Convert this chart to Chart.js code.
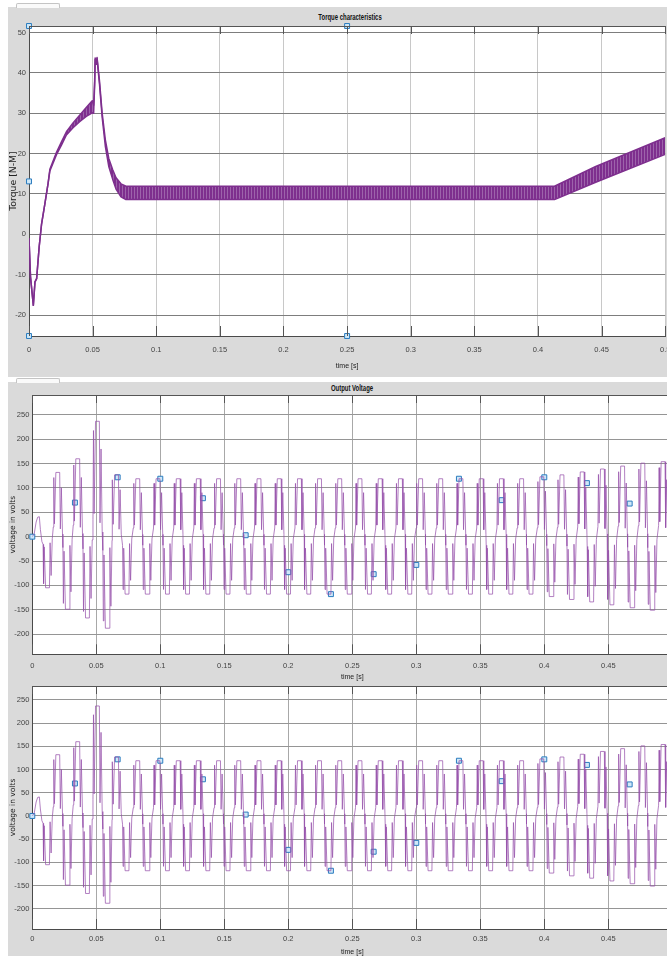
<!DOCTYPE html>
<html><head><meta charset="utf-8">
<script src="https://cdn.jsdelivr.net/npm/chart.js@4"></script>
<style>
html,body{margin:0;padding:0;width:667px;height:956px;overflow:hidden;background:#fff;}
.bg{position:absolute;background:#dadada;}
.tab{position:absolute;background:#fafafa;border:1px solid #c4c4c4;border-bottom:none;border-radius:2px 2px 0 0;}
canvas{position:absolute;left:0;}
.ttl{position:absolute;white-space:nowrap;font:bold 8.5px 'Liberation Sans',Arial,sans-serif;color:#111;
     transform:translate(-50%,-50%) scaleX(0.7);line-height:10px;}
</style></head><body>
<div class="bg" style="left:8px;top:7px;width:659px;height:370px"></div>
<div class="bg" style="left:8px;top:382px;width:659px;height:574px"></div>
<div class="tab" style="left:16px;top:3px;width:42px;height:4px"></div>
<div class="tab" style="left:16px;top:378px;width:42px;height:4px"></div>
<div class="ttl" style="left:349.5px;top:17px">Torque characteristics</div>
<div class="ttl" style="left:352px;top:388px">Output Voltage</div>
<canvas id="c1" width="680" height="375" style="top:0"></canvas>
<canvas id="c2" width="685" height="310" style="top:380px"></canvas>
<canvas id="c3" width="685" height="285" style="top:676px"></canvas>
<script>
// ---------- tick labels ----------
const timeTicks = [0, 0.05, 0.1, 0.15, 0.2, 0.25, 0.3, 0.35, 0.4, 0.45, 0.5];
const timeTickLabels = ['0', '0.05', '0.1', '0.15', '0.2', '0.25', '0.3', '0.35', '0.4', '0.45', '0.5'];
const torqueTicks = [-20, -10, 0, 10, 20, 30, 40, 50];
const voltTicks = [-200, -150, -100, -50, 0, 50, 100, 150, 200, 250];

// ---------- torque: time knots with upper / lower edge of the ripple band ----------
const torqueT     = [0, 0.0012, 0.0034, 0.0047, 0.006, 0.008, 0.0099, 0.0125, 0.015, 0.0164, 0.0216, 0.0255, 0.0294, 0.0346, 0.0398, 0.045, 0.0497, 0.0508, 0.0516, 0.052, 0.0528, 0.0535, 0.0554, 0.0575, 0.060, 0.0627, 0.0658, 0.0684, 0.0723, 0.0762, 0.413, 0.4454, 0.5];
const torqueUpper = [-1, -10.6, -17.6, -11.8, -11, -3.1, 2.6, 7.6, 12.6, 16.1, 20.3, 22.9, 25.4, 27.6, 29.5, 31.4, 33.1, 32.0, 38.0, 43.7, 42.5, 43.8, 38.0, 30.0, 23.4, 18.8, 16.0, 14.0, 12.5, 11.9, 11.9, 16.8, 23.9];
const torqueLower = [-1, -10.6, -17.6, -11.8, -11, -3.1, 2.6, 7.6, 12.6, 15.7, 19.7, 22.1, 24.6, 26.4, 27.9, 29.2, 30.1, 30.0, 37.0, 43.3, 42.1, 43.4, 37.2, 29.0, 21.8, 16.8, 13.6, 11.2, 9.3, 8.6, 8.6, 12.9, 19.8];
const torqueMarkT = [0, 0, 0, 0.25, 0.25];
const torqueMarkV = [51.6, 13.1, -25.2, 51.6, -25.2];

// ---------- output voltage ----------
// start-up segment
const voltStartT = [0, 0.0015, 0.003, 0.0042, 0.0055, 0.0063, 0.0075];
const voltStartV = [0, 6, 30, 40, 41, 15, -10];
// centres (s) and heights (V) of the positive and negative pulses, cycle by cycle
const posCentre = [0.0203, 0.0359, 0.0513, 0.0662, 0.0828, 0.0986, 0.1144, 0.1301, 0.1459, 0.1617, 0.1775, 0.1933, 0.2091, 0.2248, 0.2406, 0.2564, 0.2722, 0.2880, 0.3038, 0.3195, 0.3353, 0.3511, 0.3669, 0.3827, 0.3985, 0.4142, 0.4300, 0.4458, 0.4616, 0.4774, 0.4932];
const posPeak   = [132, 160, 237, 127, 119, 119, 119, 119, 119, 119, 119, 119, 119, 119, 119, 119, 119, 119, 119, 119, 119, 119, 119, 119, 123, 127, 133, 139, 145, 151, 154];
const negCentre = [0.0123, 0.0278, 0.0435, 0.0590, 0.0744, 0.0902, 0.1060, 0.1217, 0.1375, 0.1533, 0.1691, 0.1849, 0.2006, 0.2164, 0.2322, 0.2480, 0.2638, 0.2796, 0.2953, 0.3111, 0.3269, 0.3427, 0.3585, 0.3743, 0.3900, 0.4058, 0.4216, 0.4374, 0.4532, 0.4690, 0.4847, 0.5005];
const negPeak   = [105, 149, 167, 188, 118, 118, 118, 118, 118, 118, 118, 118, 118, 118, 118, 118, 118, 118, 118, 118, 118, 118, 118, 118, 118, 123, 129, 134, 140, 146, 151, 156];
// shape of one pulse: time offset from centre (s), fraction of pulse height
const pulseDt   = [-0.0039, -0.0035, -0.0030, -0.0019, 0.0011, 0.0016, 0.0024, 0.0033];
const pulseFrac = [0.15, 0.92, 0.20, 1.0, 1.0, 0.12, 0.76, 0.04];
// data-cursor squares
const voltMarkT = [0, 0.0333, 0.0667, 0.1, 0.1333, 0.1667, 0.2, 0.2333, 0.2667, 0.3, 0.3333, 0.3667, 0.4, 0.4333, 0.4667];
const voltMarkV = [0, 70, 122, 119, 79, 3, -73, -118, -77, -58, 119, 75, 122, 110, 68];

// ---------- build tables ----------
const torqueUpperPts = torqueT.map((t, i) => ({x: t, y: torqueUpper[i]}));
const torqueLowerPts = torqueT.map((t, i) => ({x: t, y: torqueLower[i]}));
const torqueMarks = torqueMarkT.map((t, i) => ({x: t, y: torqueMarkV[i]}));

const pulses = [{c: negCentre[0], a: -negPeak[0]}];
posCentre.forEach((c, k) => {
  pulses.push({c: c, a: posPeak[k]});
  pulses.push({c: negCentre[k + 1], a: -negPeak[k + 1]});
});
const voltPts = voltStartT.map((t, i) => ({x: t, y: voltStartV[i]}));
pulses.forEach(p => pulseDt.forEach((d, j) => voltPts.push({x: p.c + d, y: p.a * pulseFrac[j]})));
const voltMarks = voltMarkT.map((t, i) => ({x: t, y: voltMarkV[i]}));

// ---------- styling ----------
const sans = "'Liberation Sans',Arial,sans-serif";
const wide = "'DejaVu Sans',Verdana,sans-serif";
const purple = '#7E2F8E';

const stripe = document.createElement('canvas');
stripe.width = 3; stripe.height = 1;
const sc = stripe.getContext('2d');
sc.fillStyle = purple; sc.fillRect(0, 0, 2, 1);
sc.fillStyle = '#9d63ab'; sc.fillRect(2, 0, 1, 1);
const bandPattern = sc.createPattern(stripe, 'repeat');

const framePlugin = {
  id: 'frame',
  beforeDraw(chart) {
    const {ctx, chartArea: a} = chart;
    ctx.save();
    ctx.fillStyle = '#ffffff';
    ctx.fillRect(a.left, a.top, a.right - a.left, a.bottom - a.top);
    ctx.restore();
  },
  afterDraw(chart) {
    const {ctx, chartArea: a} = chart;
    const xs = chart.scales.x;
    ctx.save();
    ctx.strokeStyle = '#555';
    ctx.lineWidth = 1;
    ctx.beginPath();
    ctx.moveTo(a.left, a.top + 0.5); ctx.lineTo(a.right, a.top + 0.5);
    xs.ticks.forEach(t => {
      const px = Math.round(xs.getPixelForValue(t.value)) + 0.5;
      ctx.moveTo(px, a.bottom); ctx.lineTo(px, a.bottom - 10);
      ctx.moveTo(px, a.top); ctx.lineTo(px, a.top + 8);
    });
    ctx.stroke();
    ctx.restore();
  }
};

function xScale(h, tickPad, titlePad, gridColor) {
  return {
    type: 'linear', min: 0, max: 0.5, bounds: 'data',
    afterBuildTicks: s => { s.ticks = timeTicks.map(v => ({value: v})); },
    afterFit: s => { s.height = h; },
    grid: {color: gridColor, drawTicks: false, lineWidth: 1},
    border: {display: true, color: '#4a4a4a', width: 1},
    ticks: {autoSkip: false, maxRotation: 0, minRotation: 0, padding: tickPad, color: '#444',
            font: {family: sans, size: 7.5},
            callback: v => timeTickLabels[timeTicks.indexOf(v)]},
    title: {display: true, text: 'time [s]', color: '#222', font: {family: sans, size: 7},
            padding: {top: 0, bottom: titlePad}}
  };
}
function yScale(min, max, ticksArr, w, text, titleX, titleFont, gridColor) {
  return {
    type: 'linear', min: min, max: max, bounds: 'data',
    afterBuildTicks: s => { s.ticks = ticksArr.map(v => ({value: v})); },
    afterFit: s => { s.width = w; },
    grid: {color: gridColor, drawTicks: false, lineWidth: 1},
    border: {display: true, color: '#4a4a4a', width: 1},
    ticks: {autoSkip: false, padding: 3, color: '#444', font: {family: sans, size: 7.5}},
    title: {display: true, text: text, color: '#222', font: titleFont,
            padding: {top: titleX, bottom: 0}}
  };
}
const common = {
  responsive: false, animation: false, devicePixelRatio: 1,
  events: [],
  elements: {line: {tension: 0, borderJoinStyle: 'round'}, point: {radius: 0}}
};
const markerSet = d => ({data: d, showLine: false, pointStyle: 'rect', pointRadius: 3.5,
  backgroundColor: '#cfe8f8', borderColor: '#2b7cbf', borderWidth: 1, clip: false});

// ---------- Torque characteristics ----------
new Chart(document.getElementById('c1'), {
  type: 'line',
  data: {datasets: [
    {data: torqueUpperPts, borderColor: purple, borderWidth: 1.5, pointRadius: 0, fill: false},
    {data: torqueLowerPts, borderColor: purple, borderWidth: 1.5, pointRadius: 0, fill: '-1', backgroundColor: bandPattern},
    markerSet(torqueMarks)
  ]},
  options: Object.assign({}, common, {
    layout: {padding: {left: 0, right: 10, top: 26, bottom: 0}},
    plugins: {legend: {display: false}, tooltip: {enabled: false}},
    scales: {
      x: xScale(39, 9.6, 4.5, '#c8c8c8'),
      y: yScale(-25.2, 51.6, torqueTicks, 29, 'Torque [N-M]', 8.2, {family: wide, size: 9.3}, '#7d7d7d')
    }
  }),
  plugins: [framePlugin]
});

// ---------- Output Voltage ----------
function voltChart(id, padTop, yMin, yMax, xh, tickPad, titlePad) {
  new Chart(document.getElementById(id), {
    type: 'line',
    data: {datasets: [
      {data: voltPts, borderColor: 'rgba(150,80,170,0.72)', borderWidth: 1, pointRadius: 0, fill: false},
      markerSet(voltMarks)
    ]},
    options: Object.assign({}, common, {
      layout: {padding: {left: 0, right: 12.7, top: padTop, bottom: 0}},
      plugins: {legend: {display: false}, tooltip: {enabled: false}},
      scales: {
        x: xScale(xh, tickPad, titlePad, '#a8a8a8'),
        y: yScale(yMin, yMax, voltTicks, 32.3, 'voltage in volts', 8.5, {family: wide, size: 7.5}, '#959595')
      }
    }),
    plugins: [framePlugin]
  });
}
voltChart('c2', 15, -241.6, 291, 35.7, 7.2, 8.5);
voltChart('c3', 10, -243.5, 280, 32, 5.5, 4.5);
</script>
</body></html>
